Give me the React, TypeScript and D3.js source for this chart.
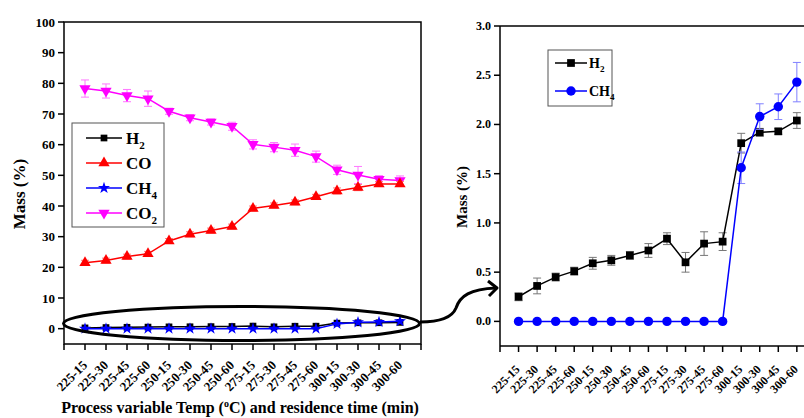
import React from 'react';
import * as d3 from 'd3';

// x categories: temperature (C) - residence time (min)
const categories = ['225-15', '225-30', '225-45', '225-60', '250-15', '250-30', '250-45', '250-60',
    '275-15', '275-30', '275-45', '275-60', '300-15', '300-30', '300-45', '300-60'];

const h2 = [0.25, 0.36, 0.45, 0.51, 0.59, 0.62, 0.67, 0.72, 0.84, 0.60, 0.79, 0.81, 1.81, 1.92, 1.93, 2.04];
const h2Err = [0.04, 0.08, 0.04, 0.04, 0.06, 0.05, 0.04, 0.07, 0.06, 0.10, 0.12, 0.09, 0.10, 0.04, 0.03, 0.08];
const ch4 = [0, 0, 0, 0, 0, 0, 0, 0, 0, 0, 0, 0, 1.56, 2.08, 2.18, 2.43];
const ch4Err = [0, 0, 0, 0, 0, 0, 0, 0, 0, 0, 0, 0, 0.16, 0.13, 0.13, 0.20];
const co = [21.5, 22.2, 23.5, 24.4, 28.6, 30.8, 32.0, 33.3, 39.2, 40.2, 41.2, 43.0, 44.9, 46.0, 47.2, 47.2];
const coErr = [0.8, 0.8, 0.8, 0.8, 0.8, 0.8, 0.8, 0.8, 0.8, 0.8, 0.8, 0.8, 1.0, 1.0, 0.8, 0.8];
const co2 = [78.3, 77.5, 76.0, 75.0, 70.9, 68.8, 67.4, 66.0, 60.1, 59.2, 58.2, 56.1, 51.8, 50.1, 48.7, 48.3];
const co2Err = [2.8, 2.3, 2.0, 2.5, 1.0, 1.0, 1.0, 1.3, 1.5, 1.5, 2.0, 1.8, 1.5, 2.8, 1.2, 1.5];

const leftTicks = [0, 10, 20, 30, 40, 50, 60, 70, 80, 90, 100];
const rightTicks = [0, 0.5, 1.0, 1.5, 2.0, 2.5, 3.0];

const FONT = '"Liberation Serif", "Times New Roman", serif';
const idx = d3.range(categories.length);
const tickIdx = d3.range(-1, categories.length + 1);

const sym = (type: any, size: number) => d3.symbol().type(type).size(size)() as string;

const Series = ({ values, errs, x, y, color, errColor, marker, cap, rotate = 0 }: any) => {
    const line = d3.line<number>().x((_, i) => x(i)).y((d) => y(d));
    return (
        <g>
            {values.map((v: number, i: number) => errs[i] > 0 ? (
                <g key={'e' + i} stroke={errColor} strokeWidth={1}>
                    <line x1={x(i)} x2={x(i)} y1={y(v - errs[i])} y2={y(v + errs[i])} />
                    <line x1={x(i) - cap} x2={x(i) + cap} y1={y(v - errs[i])} y2={y(v - errs[i])} />
                    <line x1={x(i) - cap} x2={x(i) + cap} y1={y(v + errs[i])} y2={y(v + errs[i])} />
                </g>
            ) : null)}
            <path d={line(values) as string} fill="none" stroke={color} strokeWidth={1.5} />
            {values.map((v: number, i: number) => (
                <path key={'m' + i} d={marker} fill={color}
                    transform={`translate(${x(i)},${y(v)}) rotate(${rotate})`} />
            ))}
        </g>
    );
};

const Sub = ({ main, sub, size }: any) => (
    <>
        {main}<tspan fontSize={size * 0.65} dy={size * 0.3}>{sub}</tspan>
    </>
);

export default function App() {
    // left panel
    const xL = d3.scaleLinear().domain([-1, 16]).range([64, 421]);
    const yL = d3.scaleLinear().domain([-5, 100]).range([344, 22]);
    // right panel (zoom on H2 / CH4)
    const xR = d3.scaleLinear().domain([-1, 16]).range([500, 815.4]);
    const yR = d3.scaleLinear().domain([-0.25, 3]).range([346, 26]);

    const sq = sym(d3.symbolSquare, 45);
    const tri = sym(d3.symbolTriangle, 55);
    const star = sym(d3.symbolStar, 45);
    const sqR = sym(d3.symbolSquare, 60);
    const circ = sym(d3.symbolCircle, 70);

    const legendL = [
        { name: 'H', sub: '2', color: '#000', m: sq, r: 0 },
        { name: 'CO', sub: '', color: '#ff0000', m: tri, r: 0 },
        { name: 'CH', sub: '4', color: '#0000ff', m: star, r: 0 },
        { name: 'CO', sub: '2', color: '#ff00ff', m: tri, r: 180 },
    ];

    return (
        <svg width={804} height={418} style={{ position: 'absolute', left: 0, top: 0 }}
            fontFamily={FONT} fontWeight="bold">
            <rect width={804} height={418} fill="#fff" />

            {/* ---- left panel ---- */}
            <rect x={64} y={22} width={421 - 64} height={344 - 22} fill="none" stroke="#000" strokeWidth={1.5} />
            {leftTicks.map((t) => (
                <g key={t}>
                    <line x1={58} x2={64} y1={yL(t)} y2={yL(t)} stroke="#000" strokeWidth={1.5} />
                    <text x={55} y={yL(t) + 4.5} textAnchor="end" fontSize={13}>{t}</text>
                </g>
            ))}
            {tickIdx.map((i) => (
                <line key={i} x1={xL(i)} x2={xL(i)} y1={344} y2={350} stroke="#000" strokeWidth={1.5} />
            ))}
            {idx.map((i) => (
                <text key={i} transform={`translate(${xL(i) + 3},${366}) rotate(-45)`}
                    textAnchor="end" fontSize={13}>{categories[i]}</text>
            ))}
            <text x={240} y={413} textAnchor="middle" fontSize={16}>
                Process variable Temp (<tspan fontSize={10} dy={-6}>o</tspan><tspan dy={6}>C) and residence time (min)</tspan>
            </text>
            <text transform="translate(25,194) rotate(-90)" textAnchor="middle" fontSize={17}>Mass (%)</text>

            <Series values={co2} errs={co2Err} x={xL} y={yL} color="#ff00ff" errColor="#ff77ff" marker={tri} cap={4} rotate={180} />
            <Series values={co} errs={coErr} x={xL} y={yL} color="#ff0000" errColor="#ff8080" marker={tri} cap={4} />
            <Series values={h2} errs={h2.map(() => 0)} x={xL} y={yL} color="#000" errColor="#777" marker={sq} cap={4} />
            <Series values={ch4} errs={ch4.map(() => 0)} x={xL} y={yL} color="#0000ff" errColor="#8080ff" marker={star} cap={4} />

            <rect x={72} y={123} width={92} height={104} fill="#fff" stroke="#555" strokeWidth={1} />
            {legendL.map((d, i) => {
                const ly = 138 + i * 25;
                return (
                    <g key={i}>
                        <line x1={86} x2={122} y1={ly} y2={ly} stroke={d.color} strokeWidth={1.5} />
                        <path d={d.m} fill={d.color} transform={`translate(104,${ly}) rotate(${d.r})`} />
                        <text x={126} y={ly + 6} fontSize={17}><Sub main={d.name} sub={d.sub} size={17} /></text>
                    </g>
                );
            })}

            <ellipse cx={241.5} cy={323.5} rx={178} ry={17} fill="none" stroke="#000" strokeWidth={3} />
            <path d="M420,322 C440,322 452,318 456,308 C460,296 470,289 496,288" fill="none" stroke="#000" strokeWidth={3} />
            <path d="M488,281 L497,288 L489,296" fill="none" stroke="#000" strokeWidth={3} strokeLinejoin="round" />

            {/* ---- right panel ---- */}
            <line x1={500} x2={804} y1={26} y2={26} stroke="#000" strokeWidth={1.5} />
            <line x1={500} x2={500} y1={26} y2={346} stroke="#000" strokeWidth={1.5} />
            <line x1={500} x2={804} y1={346} y2={346} stroke="#000" strokeWidth={1.5} />
            {rightTicks.map((t) => (
                <g key={t}>
                    <line x1={494} x2={500} y1={yR(t)} y2={yR(t)} stroke="#000" strokeWidth={1.5} />
                    <text x={491} y={yR(t) + 4} textAnchor="end" fontSize={12}>{t.toFixed(1)}</text>
                </g>
            ))}
            {tickIdx.map((i) => (
                <line key={i} x1={xR(i)} x2={xR(i)} y1={346} y2={352} stroke="#000" strokeWidth={1.5} />
            ))}
            {idx.map((i) => (
                <text key={i} transform={`translate(${xR(i) + 2},${370}) rotate(-45)`}
                    textAnchor="end" fontSize={12}>{categories[i]}</text>
            ))}
            <text transform="translate(467,197) rotate(-90)" textAnchor="middle" fontSize={15}>Mass (%)</text>

            <Series values={h2} errs={h2Err} x={xR} y={yR} color="#000" errColor="#777" marker={sqR} cap={4} />
            <Series values={ch4} errs={ch4Err} x={xR} y={yR} color="#0000ff" errColor="#8080ff" marker={circ} cap={4} />

            <rect x={548} y={50} width={64} height={56} fill="#fff" stroke="#555" strokeWidth={1} />
            <line x1={555} x2={587} y1={63} y2={63} stroke="#000" strokeWidth={1.5} />
            <path d={sqR} fill="#000" transform="translate(571,63)" />
            <text x={589} y={68} fontSize={14}><Sub main="H" sub="2" size={14} /></text>
            <line x1={555} x2={587} y1={91} y2={91} stroke="#0000ff" strokeWidth={1.5} />
            <path d={circ} fill="#0000ff" transform="translate(571,91)" />
            <text x={589} y={96} fontSize={14}><Sub main="CH" sub="4" size={14} /></text>
        </svg>
    );
}
